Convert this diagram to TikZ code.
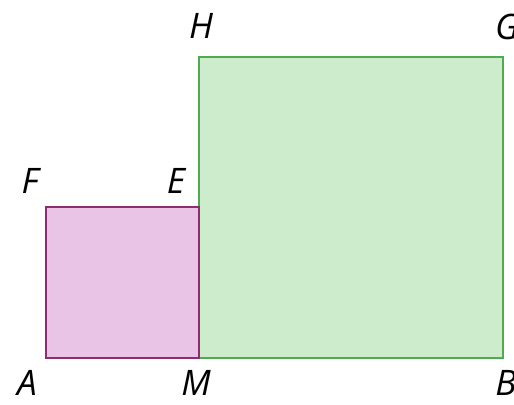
\documentclass[tikz,border=0pt]{standalone}
\usepackage{fontspec}
\setmainfont{Open Sans}
\usetikzlibrary{calc}

\definecolor{sqpink}{RGB}{234,196,230}
\definecolor{sqpurple}{RGB}{140,45,115}
\definecolor{sqgreen}{RGB}{204,236,204}
\definecolor{sqedge}{RGB}{80,170,80}

\begin{document}
\begin{tikzpicture}[x=0.02cm,y=-0.02cm]
        \tikzset{lbl/.style={font=\fontsize{20}{24}\selectfont\itshape, inner sep=0pt}}
        \useasboundingbox (0,0) rectangle (514,405);
        % corners
        \coordinate (A) at (46,358);
        \coordinate (M) at (199,358);
        \coordinate (E) at (199,207);
        \coordinate (F) at (46,207);
        \coordinate (B) at (503,358);
        \coordinate (G) at (503,57);
        \coordinate (H) at (199,57);

        % big square
        \draw[sqedge, fill=sqgreen, line width=1.3pt] (M) -- (B) -- (G) -- (H) -- cycle;
        % small square
        \draw[sqpurple, fill=sqpink, line width=1.3pt] (A) -- (M) -- (E) -- (F) -- cycle;

        % labels
        \node[lbl] (lA) at (27,383) {A};
        \node[lbl] (lM) at (196,383) {M};
        \node[lbl] (lB) at (506,383) {B};
        \node[lbl] (lF) at (30,181) {F};
        \node[lbl] (lE) at (176,181) {E};
        \node[lbl] (lH) at (201,26) {H};
        \node[lbl] (lG) at (507,27) {G};
\end{tikzpicture}
\end{document}
